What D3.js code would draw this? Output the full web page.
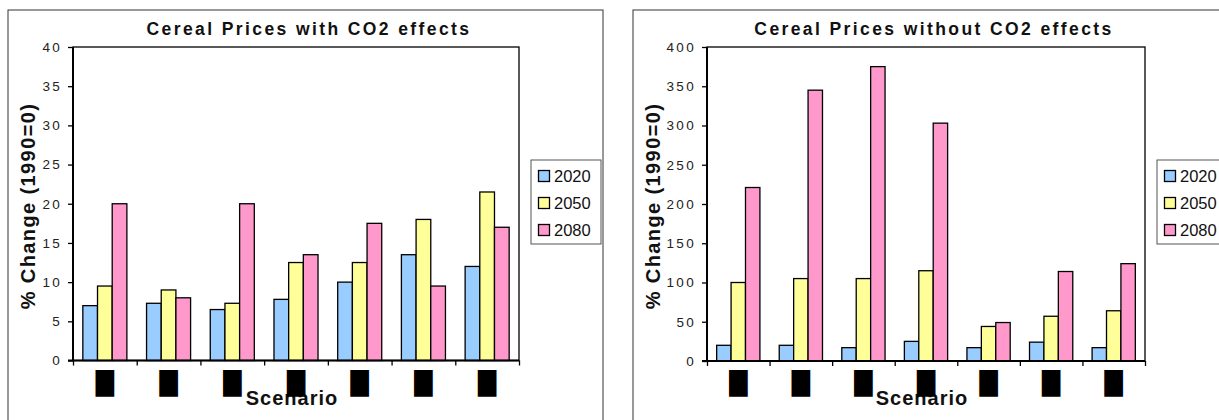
<!DOCTYPE html>
<html>
<head>
<meta charset="utf-8">
<script src="https://cdn.jsdelivr.net/npm/d3@7"></script>
<style>
  body { margin: 0; background: #fff; }
  text { font-family: "Liberation Sans", Arial, sans-serif; }
</style>
</head>
<body>
<script>
// scenario labels are blacked out in the source chart
const scenarioLabels = ["█", "█", "█", "█", "█", "█", "█"]
const years = ["2020", "2050", "2080"]
const yearColors = ["#99ccff", "#ffff99", "#ff99cc"]

// Cereal prices with CO2 effects (% change, 1990=0)
const withCO2_2020 = [7, 7.3, 6.5, 7.8, 10, 13.5, 12]
const withCO2_2050 = [9.5, 9, 7.3, 12.5, 12.5, 18, 21.5]
const withCO2_2080 = [20, 8, 20, 13.5, 17.5, 9.5, 17]
const withTicks = [0, 5, 10, 15, 20, 25, 30, 35, 40]

// Cereal prices without CO2 effects
const noCO2_2020 = [20, 20, 17, 25, 17, 24, 17]
const noCO2_2050 = [100, 105, 105, 115, 44, 57, 64]
const noCO2_2080 = [221, 345, 375, 303, 49, 114, 124]
const noTicks = [0, 50, 100, 150, 200, 250, 300, 350, 400]

const w = 1219
const h = 420

const svg = d3.select("body")
  .append("svg")
  .attr("width", w)
  .attr("height", h)

function drawChart(cfg) {
  const g = svg.append("g")

  // outer chart frame
  g.append("rect")
    .attr("x", cfg.panelX).attr("y", 10)
    .attr("width", 595).attr("height", 440)
    .attr("fill", "#fff")
    .attr("stroke", "#333")
    .attr("stroke-width", 1)

  const x0 = d3.scaleBand()
    .domain(d3.range(scenarioLabels.length))
    .range([cfg.x0, cfg.x1])
  const x1 = d3.scaleBand()
    .domain(years)
    .range([0, x0.bandwidth()])
    .paddingOuter(0.67)
  const y = d3.scaleLinear()
    .domain([0, cfg.max])
    .range([cfg.yBottom, cfg.yTop])

  // title
  g.append("text")
    .attr("x", cfg.panelX + 301)
    .attr("y", 35)
    .attr("text-anchor", "middle")
    .attr("font-size", "17.5px")
    .attr("font-weight", "bold")
    .attr("letter-spacing", "2.4px")
    .attr("fill", "#111")
    .text(cfg.title)

  // plot area border
  g.append("rect")
    .attr("x", cfg.x0).attr("y", cfg.yTop)
    .attr("width", cfg.x1 - cfg.x0).attr("height", cfg.yBottom - cfg.yTop)
    .attr("fill", "none")
    .attr("stroke", "#000")
    .attr("stroke-width", 1.3)

  // bars
  years.forEach((yr, i) => {
    g.append("g")
      .selectAll("rect")
      .data(cfg.series[i])
      .enter()
      .append("rect")
      .attr("x", (d, j) => x0(j) + x1(yr))
      .attr("y", d => y(d))
      .attr("width", x1.bandwidth())
      .attr("height", d => y(0) - y(d))
      .attr("fill", yearColors[i])
      .attr("stroke", "#000")
      .attr("stroke-width", 1.3)
  })

  // y axis
  const yAxis = d3.axisLeft(y).tickValues(cfg.ticks).tickSize(5).tickPadding(6)
  const ya = g.append("g")
    .attr("transform", "translate(" + cfg.x0 + ",0)")
    .call(yAxis)
  ya.select(".domain").remove()
  ya.selectAll("line").attr("stroke", "#000").attr("stroke-width", 1.3)
  ya.selectAll("text")
    .attr("font-family", "Liberation Sans, Arial, sans-serif")
    .attr("font-size", "13.5px")
    .attr("letter-spacing", "2.3px")
    .attr("fill", "#222")

  // x axis: ticks at category boundaries
  const edge = d3.scaleLinear().domain([0, scenarioLabels.length]).range([cfg.x0, cfg.x1])
  const xAxis = d3.axisBottom(edge).tickValues(d3.range(scenarioLabels.length + 1)).tickSize(5).tickFormat("")
  const xa = g.append("g")
    .attr("transform", "translate(0," + cfg.yBottom + ")")
    .call(xAxis)
  xa.select(".domain").remove()
  xa.selectAll("line").attr("stroke", "#000").attr("stroke-width", 1.3)

  // heavy axis lines
  g.append("line")
    .attr("x1", cfg.x0).attr("x2", cfg.x0)
    .attr("y1", cfg.yTop).attr("y2", cfg.yBottom)
    .attr("stroke", "#000").attr("stroke-width", 2)
  g.append("line")
    .attr("x1", cfg.x0 - 5).attr("x2", cfg.x1)
    .attr("y1", cfg.yBottom).attr("y2", cfg.yBottom)
    .attr("stroke", "#000").attr("stroke-width", 2)

  // axis titles
  g.append("text")
    .attr("transform", "translate(" + (cfg.x0 - cfg.yTitleOffset) + "," + 206 + ") rotate(-90)")
    .attr("text-anchor", "middle")
    .attr("font-size", "20px")
    .attr("font-weight", "bold")
    .attr("letter-spacing", "1.4px")
    .attr("fill", "#111")
    .text("% Change (1990=0)")

  g.append("text")
    .attr("x", (cfg.x0 + cfg.x1) / 2 - 4)
    .attr("y", 405)
    .attr("text-anchor", "middle")
    .attr("font-size", "20px")
    .attr("font-weight", "bold")
    .attr("letter-spacing", "1px")
    .attr("fill", "#111")
    .text("Scenario")

  // scenario labels (blacked out, drawn over the axis title as in the source)
  g.append("g")
    .selectAll("text")
    .data(scenarioLabels)
    .enter()
    .append("text")
    .attr("transform", (d, j) => "translate(" + (x0(j) + x0.bandwidth() / 2) + "," + (cfg.yBottom + 29) + ") scale(1.2,1)")
    .attr("text-anchor", "middle")
    .attr("font-family", "DejaVu Sans")
    .attr("font-size", "22px")
    .attr("fill", "#000")
    .text(d => d)

  // legend
  const lg = g.append("g")
    .attr("transform", "translate(" + (cfg.x1 + 12) + ",160)")
  lg.append("rect")
    .attr("width", 70).attr("height", 84)
    .attr("fill", "#fff")
    .attr("stroke", "#555")
    .attr("stroke-width", 1)
  years.forEach((yr, i) => {
    lg.append("rect")
      .attr("x", 7.5).attr("y", 10.5 + i * 27)
      .attr("width", 11).attr("height", 11)
      .attr("fill", yearColors[i])
      .attr("stroke", "#000")
      .attr("stroke-width", 1.3)
    lg.append("text")
      .attr("x", 23).attr("y", 22 + i * 27)
      .attr("font-size", "16.5px")
      .attr("fill", "#111")
      .text(yr)
  })
}

drawChart({
  panelX: 8,
  x0: 73, x1: 519,
  yTop: 47, yBottom: 360.5,
  max: 40,
  ticks: withTicks,
  yTitleOffset: 38,
  title: "Cereal Prices with CO2 effects",
  series: [withCO2_2020, withCO2_2050, withCO2_2080]
})

drawChart({
  panelX: 633,
  x0: 707, x1: 1145,
  yTop: 47, yBottom: 361,
  max: 400,
  ticks: noTicks,
  yTitleOffset: 47,
  title: "Cereal Prices without CO2 effects",
  series: [noCO2_2020, noCO2_2050, noCO2_2080]
})
</script>
</body>
</html>
